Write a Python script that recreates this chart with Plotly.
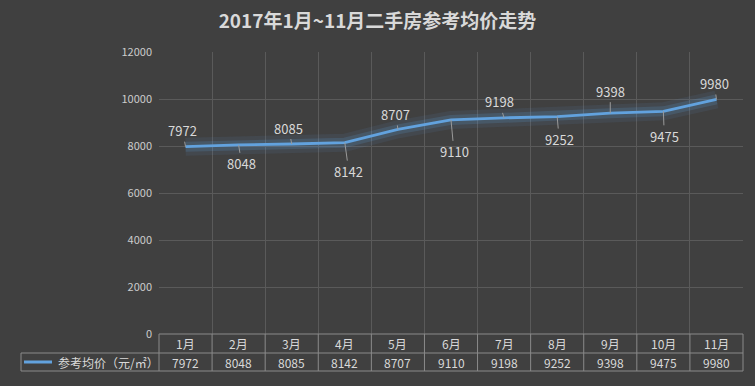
import plotly.graph_objects as go

months = ["1月", "2月", "3月", "4月", "5月", "6月", "7月", "8月", "9月", "10月", "11月"]
prices = [7972, 8048, 8085, 8142, 8707, 9110, 9198, 9252, 9398, 9475, 9980]
series_name = "参考均价（元/㎡）"
title_text = "2017年1月~11月二手房参考均价走势"
y_ticks = [0, 2000, 4000, 6000, 8000, 10000, 12000]
# label offsets (pixels) for data labels
label_dx = [-3, 3, -3, 4, -2, 3, -5, 2, 0, 1, -2]
label_dy = [-16, 19, -16, 29, -15, 32, -16, 23, -22, 25, -16]

BG = "#404040"
GRID = "#5a5a5a"
TABLE = "#8a8a8a"
TXT = "#d9d9d9"
LINE = "#62a2de"
FONT = "Noto Sans CJK SC"

W, H = 755, 386
ML, MR, MT, MB = 159, 12, 52, 52
PW, PH = W - ML - MR, H - MT - MB

def px_x(p):
    return (p - ML) / PW

def px_y(p):
    return (H - MB - p) / PH

xs = [i + 0.5 for i in range(len(months))]

fig = go.Figure()
# glow
fig.add_trace(go.Scatter(x=xs, y=prices, mode="lines", line=dict(color="rgba(95,159,220,0.09)", width=18),
                         hoverinfo="skip", showlegend=False))
fig.add_trace(go.Scatter(x=xs, y=prices, mode="lines", line=dict(color="rgba(95,159,220,0.18)", width=10),
                         hoverinfo="skip", showlegend=False))
fig.add_trace(go.Scatter(x=xs, y=prices, mode="lines", line=dict(color=LINE, width=2.8),
                         name=series_name, showlegend=False))

annotations = []
for i, v in enumerate(prices):
    annotations.append(dict(x=xs[i], y=v, xref="x", yref="y", text=str(v), showarrow=True,
                            ax=label_dx[i], ay=label_dy[i], arrowhead=0, arrowwidth=1,
                            arrowcolor="#9a9a9a", standoff=0,
                            font=dict(family=FONT, size=13, color=TXT)))

shapes = []
row_top = px_y(334)
row_mid = px_y(353)
row_bot = px_y(371)
leg_left = px_x(21)
# horizontal table lines
shapes.append(dict(type="line", xref="paper", yref="paper", x0=0, x1=1, y0=row_top, y1=row_top,
                   line=dict(color=TABLE, width=1)))
for yy in (row_mid, row_bot):
    shapes.append(dict(type="line", xref="paper", yref="paper", x0=leg_left, x1=1, y0=yy, y1=yy,
                       line=dict(color=TABLE, width=1)))
# vertical table lines
for k in range(len(months) + 1):
    xp = k / len(months)
    shapes.append(dict(type="line", xref="paper", yref="paper", x0=xp, x1=xp, y0=row_top, y1=row_bot,
                       line=dict(color=TABLE, width=1)))
shapes.append(dict(type="line", xref="paper", yref="paper", x0=leg_left, x1=leg_left, y0=row_mid, y1=row_bot,
                   line=dict(color=TABLE, width=1)))
# legend sample line
shapes.append(dict(type="line", xref="paper", yref="paper", x0=px_x(24), x1=px_x(52),
                   y0=px_y(362), y1=px_y(362), line=dict(color=LINE, width=3)))

for i, m in enumerate(months):
    annotations.append(dict(x=xs[i], y=(row_top + row_mid) / 2, xref="x", yref="paper", text=m,
                            xanchor="center", yanchor="middle",
                            showarrow=False, font=dict(family=FONT, size=12, color=TXT)))
    annotations.append(dict(x=xs[i], y=(row_mid + row_bot) / 2, xref="x", yref="paper", text=str(prices[i]),
                            xanchor="center", yanchor="middle",
                            showarrow=False, font=dict(family=FONT, size=12, color=TXT)))
annotations.append(dict(x=px_x(56), y=(row_mid + row_bot) / 2, xref="paper", yref="paper", text=series_name,
                        xanchor="left", yanchor="middle", showarrow=False,
                        font=dict(family=FONT, size=12, color=TXT)))

fig.update_layout(
    width=W, height=H,
    paper_bgcolor=BG, plot_bgcolor=BG,
    margin=dict(l=ML, r=MR, t=MT, b=MB, autoexpand=False),
    title=dict(text="<b>" + title_text + "</b>", x=0.5, xanchor="center", y=1 - 21 / H, yanchor="middle",
               font=dict(family=FONT, size=19, color=TXT)),
    xaxis=dict(range=[0, len(months)], tickvals=list(range(len(months) + 1)), showticklabels=False,
               showgrid=True, gridcolor=GRID, gridwidth=1, zeroline=False, showline=False, fixedrange=True),
    yaxis=dict(range=[0, 12000], tickvals=y_ticks, tickformat="d", showgrid=True, gridcolor=GRID, gridwidth=1,
               zeroline=False, showline=False, ticks="", tickfont=dict(family=FONT, size=11, color="#cccccc"),
               ticklabelstandoff=6, automargin=False),
    shapes=shapes,
    annotations=annotations,
    showlegend=False,
)

fig.write_html("out.html", config={"displayModeBar": False},
               post_script="document.body.style.margin='0';document.body.style.background='#404040';")
